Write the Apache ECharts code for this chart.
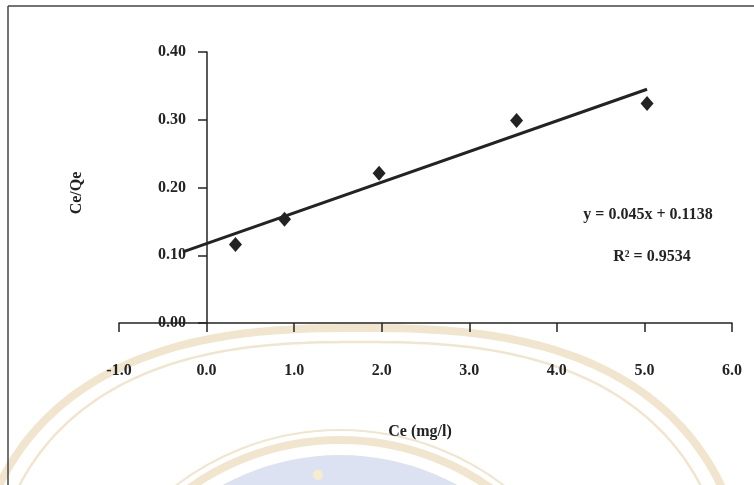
<!DOCTYPE html>
<html>
<head>
<meta charset="utf-8">
<style>
  html, body { margin: 0; padding: 0; background: #fff; }
  #chart { width: 754px; height: 485px; }
</style>
<script src="https://cdn.jsdelivr.net/npm/echarts@6/dist/echarts.min.js"></script>
</head>
<body>
<div id="chart"></div>
<script>
// measured points, Ce (mg/l) vs Ce/Qe
var ce = [0.33, 0.89, 1.97, 3.54, 5.03];
var ceQe = [0.116, 0.153, 0.221, 0.299, 0.324];
// linear trendline, ends as drawn
var trendX = [-0.27, 5.03];
var trendY = [0.105, 0.345];

var xTicks = { min: -1, max: 6, step: 1 };
var yTicks = { min: 0, max: 0.4, step: 0.1 };

var font = "Liberation Serif";
var ink = "#232323";
var beige = "#f1e6cd";

// faint seal watermark in the background (scan artefact)
function sealCurve(cx, cy, a, b, n) {
  var pts = [];
  for (var i = 0; i <= 180; i++) {
    var t = Math.PI * i / 180;
    var c = Math.cos(t), s = Math.sin(t);
    pts.push([cx + a * Math.sign(c) * Math.pow(Math.abs(c), 2 / n),
              cy - b * Math.pow(Math.abs(s), 2 / n)]);
  }
  return pts;
}

var chart = echarts.init(document.getElementById("chart"));

chart.setOption({
  backgroundColor: "#fff",
  animation: false,
  grid: { left: 119, right: 22, top: 52, bottom: 162 },
  xAxis: {
    type: "value",
    min: xTicks.min,
    max: xTicks.max,
    interval: xTicks.step,
    axisLine: { onZero: true, lineStyle: { color: ink, width: 1.5 } },
    axisTick: { length: 9, lineStyle: { color: ink, width: 1.5 } },
    axisLabel: {
      margin: 40,
      color: ink,
      fontFamily: font,
      fontWeight: "bold",
      fontSize: 16,
      formatter: function (v) { return v.toFixed(1); }
    },
    splitLine: { show: false }
  },
  yAxis: {
    type: "value",
    min: yTicks.min,
    max: yTicks.max,
    interval: yTicks.step,
    // the value axis crosses at Ce = 0, one category step right of the grid edge
    offset: -88,
    axisLine: { show: true, onZero: false, lineStyle: { color: ink, width: 1.5 } },
    axisTick: { show: true, length: 9, lineStyle: { color: ink, width: 1.5 } },
    axisLabel: {
      margin: 21,
      color: ink,
      fontFamily: font,
      fontWeight: "bold",
      fontSize: 16,
      formatter: function (v) { return v.toFixed(2); }
    },
    splitLine: { show: false }
  },
  graphic: [
    { type: "polyline", z: -10, silent: true,
      shape: { points: sealCurve(360, 660, 391, 332, 2.6) },
      style: { fill: null, stroke: beige, lineWidth: 8 } },
    { type: "polyline", z: -10, silent: true,
      shape: { points: sealCurve(360, 660, 373, 318, 2.6) },
      style: { fill: null, stroke: beige, lineWidth: 2.5 } },
    { type: "circle", z: -10, silent: true,
      shape: { cx: 340, cy: 700, r: 245 },
      style: { fill: "#dce2f1" } },
    { type: "circle", z: -10, silent: true,
      shape: { cx: 340, cy: 700, r: 260 },
      style: { fill: null, stroke: beige, lineWidth: 8 } },
    { type: "circle", z: -10, silent: true,
      shape: { cx: 340, cy: 700, r: 270 },
      style: { fill: null, stroke: beige, lineWidth: 2 } },
    { type: "circle", z: -9, silent: true,
      shape: { cx: 318, cy: 475, r: 5 },
      style: { fill: "#f5edcc" } },
    // frame of the scanned figure
    { type: "line", silent: true,
      shape: { x1: 8, y1: 6, x2: 754, y2: 6 },
      style: { stroke: "#444", lineWidth: 1.5 } },
    { type: "line", silent: true,
      shape: { x1: 8, y1: 6, x2: 8, y2: 485 },
      style: { stroke: "#444", lineWidth: 1.5 } },
    // axis titles
    { type: "text", x: 420, y: 432,
      style: { text: "Ce (mg/l)", fill: ink, font: "bold 16px " + font,
               textAlign: "center", textVerticalAlign: "middle" } },
    { type: "text", x: 77, y: 193, rotation: Math.PI / 2,
      style: { text: "Ce/Qe", fill: ink, font: "bold 16px " + font,
               textAlign: "center", textVerticalAlign: "middle" } },
    // trendline equation
    { type: "text", x: 648, y: 215,
      style: { text: "y = 0.045x + 0.1138", fill: ink, font: "bold 16px " + font,
               textAlign: "center", textVerticalAlign: "middle" } },
    { type: "text", x: 652, y: 257,
      style: { text: "R\u00b2 = 0.9534", fill: ink, font: "bold 16px " + font,
               textAlign: "center", textVerticalAlign: "middle" } }
  ],
  series: [
    {
      type: "line",
      data: trendX.map(function (x, i) { return [x, trendY[i]]; }),
      symbol: "none",
      lineStyle: { color: ink, width: 3 },
      z: 3
    },
    {
      type: "scatter",
      data: ce.map(function (x, i) { return [x, ceQe[i]]; }),
      symbol: "diamond",
      symbolSize: [13, 15],
      itemStyle: { color: ink, opacity: 1 },
      z: 4
    }
  ]
});
</script>
</body>
</html>
